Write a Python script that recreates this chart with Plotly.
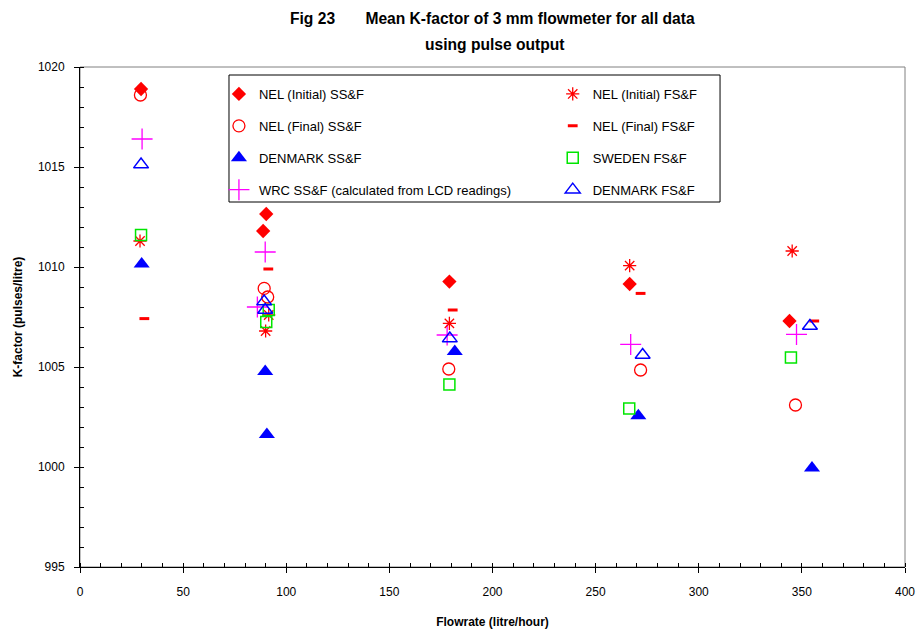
import plotly.graph_objects as go

# ---- data ----
nel_init_ss_x = [29.6, 90.3, 88.8, 179.1, 266.5, 344.0]
nel_init_ss_y = [1018.9, 1012.65, 1011.8, 1009.27, 1009.15, 1007.3]

nel_final_ss_x = [29.3, 89.3, 91.0, 178.8, 271.8, 346.9]
nel_final_ss_y = [1018.6, 1008.93, 1008.5, 1004.9, 1004.85, 1003.1]

denmark_ss_x = [29.9, 89.8, 90.6, 181.7, 270.7, 354.9]
denmark_ss_y = [1010.15, 1004.78, 1001.63, 1005.78, 1002.56, 999.95]

wrc_ss_x = [30.1, 89.8, 86.0, 178.0, 267.0, 347.4]
wrc_ss_y = [1016.4, 1010.75, 1008.0, 1006.6, 1006.13, 1006.63]

nel_init_fs_x = [29.1, 91.5, 90.0, 179.1, 266.5, 345.3]
nel_init_fs_y = [1011.3, 1007.6, 1006.8, 1007.18, 1010.07, 1010.8]

nel_final_fs_x = [31.2, 91.3, 180.7, 271.8, 356.0]
nel_final_fs_y = [1007.42, 1009.9, 1007.85, 1008.68, 1007.3]

sweden_fs_x = [29.6, 91.5, 90.3, 179.1, 266.3, 344.7]
sweden_fs_y = [1011.6, 1007.85, 1007.25, 1004.13, 1002.93, 1005.47]

denmark_fs_x = [29.6, 89.3, 89.8, 179.3, 272.8, 353.9]
denmark_fs_y = [1015.12, 1008.27, 1007.85, 1006.42, 1005.6, 1007.05]

title_line1 = "Fig 23&nbsp;&nbsp;&nbsp;&nbsp;&nbsp;&nbsp; Mean K-factor of 3 mm flowmeter for all data"
title_line2 = "using pulse output"

RED = "#FF0000"
BLUE = "#0000FF"
MAG = "#FF00FF"
GREEN = "#00E600"

fig = go.Figure()

def add(name, x, y, symbol, color, size, legend, lw=1.3):
    fig.add_trace(go.Scatter(
        x=x, y=y, mode="markers", name=name, legend=legend, legendgroup=name,
        marker=dict(symbol=symbol, color=color, size=size,
                    line=dict(color=color, width=lw)),
    ))

# left legend column
add("NEL (Initial) SS&F", nel_init_ss_x, nel_init_ss_y, "diamond", RED, 11, "legend", 0)
add("NEL (Final) SS&F", nel_final_ss_x, nel_final_ss_y, "circle-open", RED, 12, "legend")
add("DENMARK SS&F", denmark_ss_x, denmark_ss_y, "triangle-up", BLUE, 14, "legend", 0)
add("WRC SS&F (calculated from LCD readings)", wrc_ss_x, wrc_ss_y, "cross-thin-open", MAG, 15, "legend")
# right legend column
add("NEL (Initial) FS&F", nel_init_fs_x, nel_init_fs_y, "asterisk-open", RED, 11, "legend2")
add("NEL (Final) FS&F", nel_final_fs_x, nel_final_fs_y, "line-ew-open", RED, 7, "legend2", 3)
add("SWEDEN FS&F", sweden_fs_x, sweden_fs_y, "square-open", GREEN, 11, "legend2", 1.5)
add("DENMARK FS&F", denmark_fs_x, denmark_fs_y, "triangle-up-open", BLUE, 13, "legend2", 1.5)

FONT = "Liberation Sans, Arial, sans-serif"
leg_common = dict(font=dict(family=FONT, size=13, color="black"),
                  bgcolor="rgba(0,0,0,0)", borderwidth=0,
                  tracegroupgap=12, itemwidth=30,
                  xanchor="left", yanchor="top", orientation="v")

fig.update_layout(
    width=917, height=631,
    margin=dict(l=80, r=12, t=67, b=64),
    paper_bgcolor="white", plot_bgcolor="white",
    font=dict(family=FONT, size=12, color="black"),
    legend=dict(x=0.1684, y=0.976, **leg_common),
    legend2=dict(x=0.573, y=0.976, **leg_common),
    showlegend=True,
    xaxis=dict(
        range=[0, 400], dtick=50, tick0=0, showgrid=False, zeroline=False,
        showline=True, linecolor="black", linewidth=1, automargin=False,
        ticks="outside", ticklen=5, tickcolor="black", ticklabelstandoff=9,
        minor=dict(dtick=10, ticks="inside", ticklen=4, tickcolor="black"),
        tickfont=dict(family=FONT, size=12),
        title=dict(text="<b>Flowrate (litre/hour)</b>", font=dict(family=FONT, size=12), standoff=19),
    ),
    yaxis=dict(
        range=[995, 1020], dtick=5, tick0=995, showgrid=False, zeroline=False,
        showline=True, linecolor="black", linewidth=1, automargin=False,
        ticks="outside", ticklen=5, tickcolor="black", ticklabelstandoff=7,
        minor=dict(dtick=1, ticks="inside", ticklen=4, tickcolor="black"),
        tickfont=dict(family=FONT, size=12),
        title=dict(text="<b>K-factor (pulses/litre)</b>", font=dict(family=FONT, size=12), standoff=12),
    ),
    annotations=[
        dict(text="<b>" + title_line1 + "</b>", xref="paper", yref="paper",
             x=0.5, y=1.096, xanchor="center", yanchor="middle", showarrow=False,
             font=dict(family=FONT, size=15.6, color="black")),
        dict(text="<b>" + title_line2 + "</b>", xref="paper", yref="paper",
             x=0.503, y=1.044, xanchor="center", yanchor="middle", showarrow=False,
             font=dict(family=FONT, size=15.6, color="black")),
    ],
    shapes=[
        dict(type="rect", xref="paper", yref="paper", x0=0, x1=1, y0=0, y1=1,
             line=dict(color="#808080", width=1), layer="below"),
        dict(type="rect", xref="paper", yref="paper", x0=0.1806, x1=0.7758, y0=0.73, y1=0.984,
             line=dict(color="black", width=1), layer="below"),
    ],
)

fig.write_html("out.html", post_script="document.body.style.margin='0';",
               config={"displayModeBar": False})
